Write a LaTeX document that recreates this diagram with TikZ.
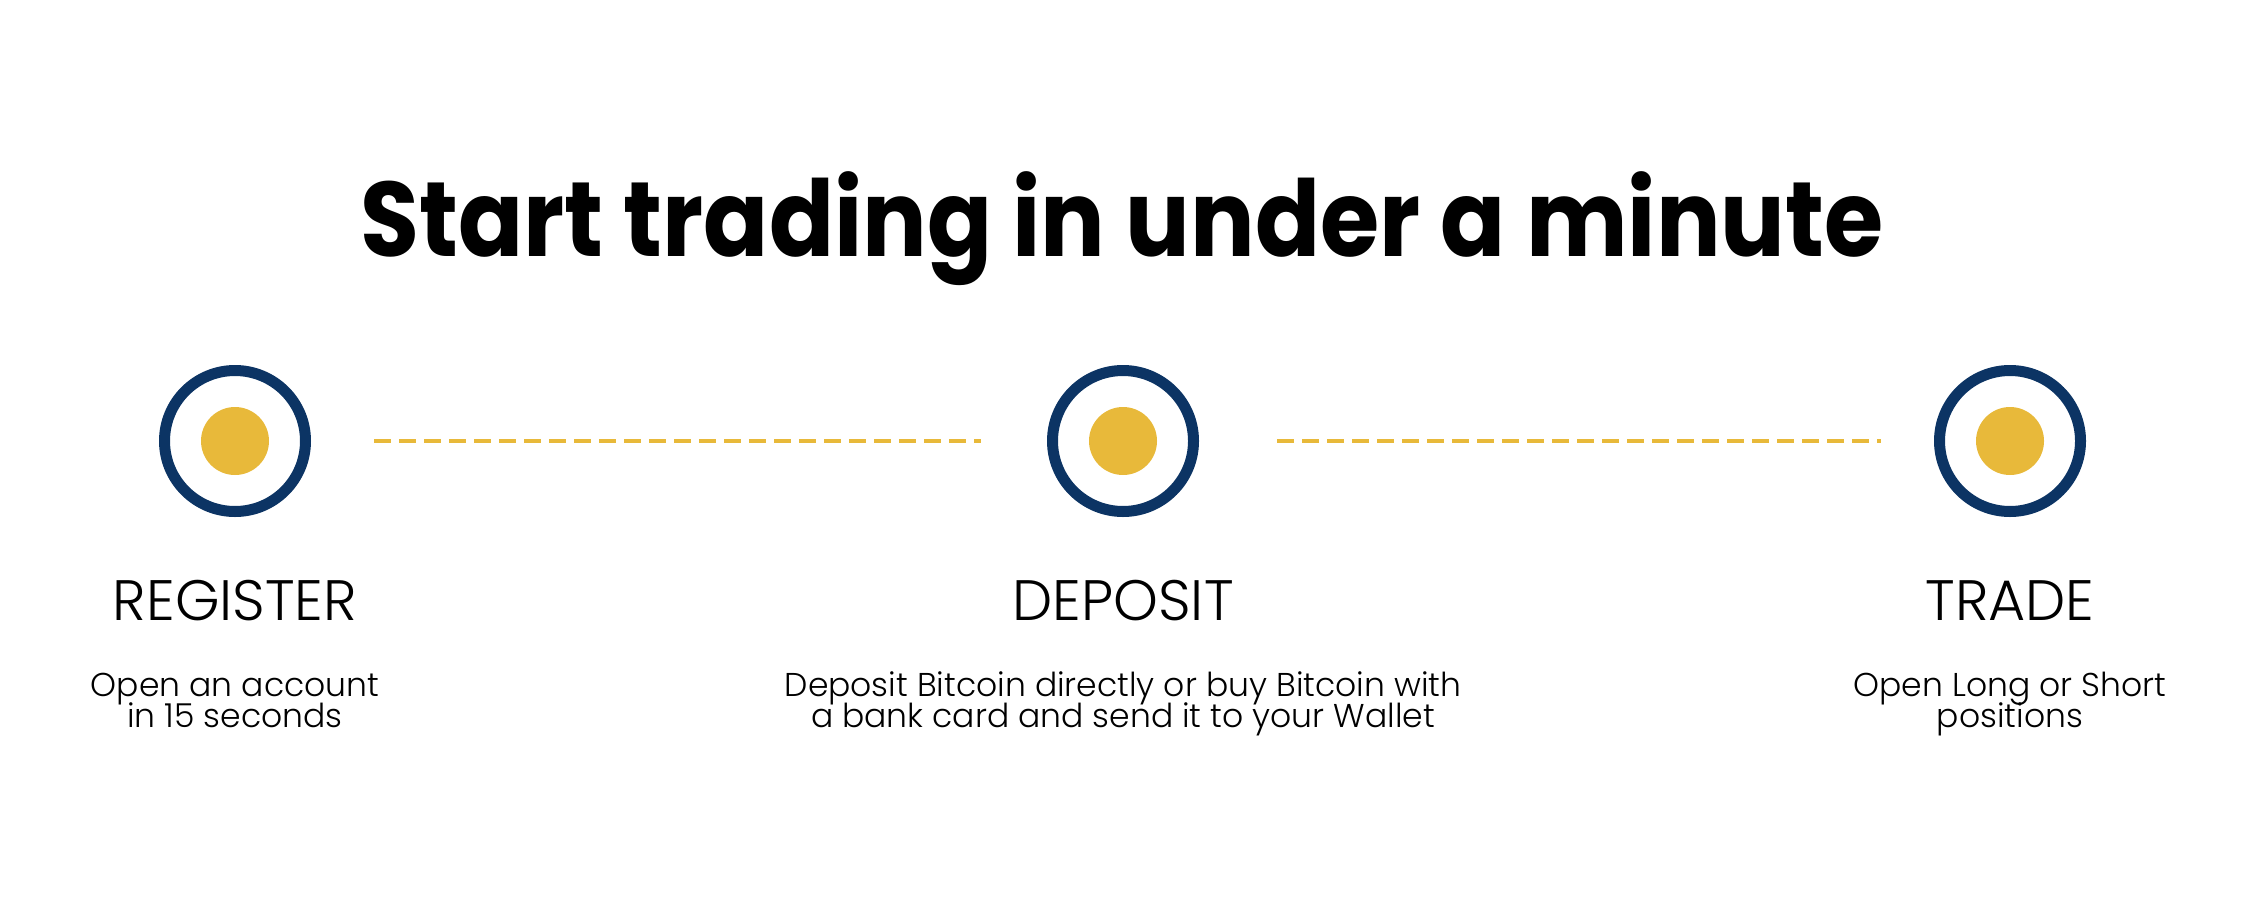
\documentclass[tikz,border=0pt]{standalone}
\usepackage{fontspec}
\usepackage{xcolor}
\usetikzlibrary{positioning}
\setmainfont{Poppins}
\newfontfamily\headfont[FakeStretch=0.905]{Poppins}
\newfontfamily\stepfont{Poppins Light}
\newcommand{\tightlines}{\lineskiplimit=-20pt\relax}
\definecolor{navy}{HTML}{0C3464}
\definecolor{gold}{HTML}{E8B93A}
\tikzset{
  ring/.style={circle, draw=navy, line width=11pt, minimum size=141pt, inner sep=0pt},
  dot/.style={circle, fill=gold, minimum size=68pt, inner sep=0pt},
  link/.style={draw=gold, line width=4.5pt, dash pattern=on 17pt off 8pt},
  stepname/.style={anchor=base, font=\stepfont\fontsize{57}{57}\selectfont},
  stepnote/.style={anchor=base, align=center,
    font=\stepfont\fontsize{33}{31}\selectfont\tightlines},
}
\begin{document}
\begin{tikzpicture}[x=1pt, y=-1pt]
  \useasboundingbox (0,0) rectangle (2245,918);
  \node[anchor=base, font=\headfont\bfseries\fontsize{106}{106}\selectfont] (title)
    at (1122,256) {Start trading in under a minute};

  % the three steps
  \node[ring] (reg) at (235,441) {};
  \node[ring] (dep) at (1123,441) {};
  \node[ring] (trd) at (2010,441) {};
  \foreach \s in {reg,dep,trd}{
    \node[dot] at (\s) {};
  }

  \draw[link, shorten <=63pt, shorten >=66pt] (reg) -- (dep);
  \draw[link, shorten <=78pt, shorten >=53pt] (dep) -- (trd);

  \node[stepname] (regname) at (235,620) {REGISTER};
  \node[stepname] (depname) at (1123,620) {DEPOSIT};
  \node[stepname] (trdname) at (2010,620) {TRADE};

  % base of a two-line note is its last line
  \node[stepnote] (regnote) at (235,727) {Open an account\\in 15 seconds};
  \node[stepnote] (depnote) at (1123,727) {Deposit Bitcoin directly or buy Bitcoin with\\a bank card and send it to your Wallet};
  \node[stepnote] (trdnote) at (2010,727) {Open Long or Short\\positions};
\end{tikzpicture}
\end{document}
